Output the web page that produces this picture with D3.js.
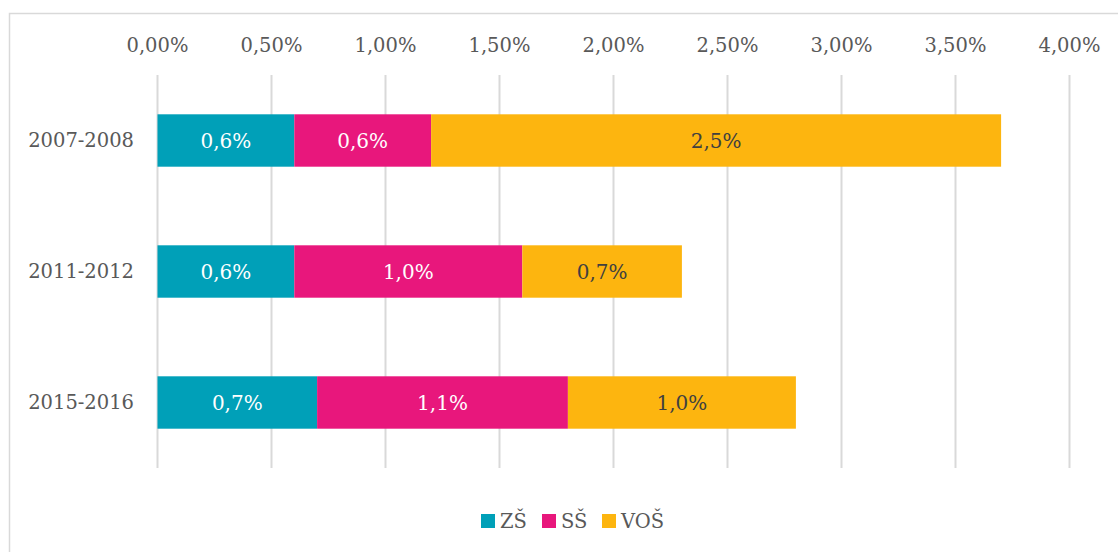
<!DOCTYPE html>
<html>
<head>
<meta charset="utf-8">
<script src="https://cdn.jsdelivr.net/npm/d3@7"></script>
<style>
  body { margin: 0; background: #fff; }
  svg text { font-family: "DejaVu Serif", "Liberation Serif", serif; }
</style>
</head>
<body>
<div id="chart"></div>
<script>
// Data (percent)
var years = ['2007-2008', '2011-2012', '2015-2016']
var keys = ['ZŠ', 'SŠ', 'VOŠ']
var zs  = [0.6, 0.6, 0.7]
var ss  = [0.6, 1.0, 1.1]
var vos = [2.5, 0.7, 1.0]
var ticks = [0, 0.5, 1, 1.5, 2, 2.5, 3, 3.5, 4]

var colors = ['#00a0b8', '#e8177c', '#fdb50f']
var labelColors = ['#ffffff', '#ffffff', '#404040']

// build rows for d3.stack
var rows = years.map(function(y, i) {
    return { year: y, 'ZŠ': zs[i], 'SŠ': ss[i], 'VOŠ': vos[i] }
})
var series = d3.stack().keys(keys)(rows)

var width = 1118, height = 552
var svg = d3.select('#chart').append('svg')
    .attr('width', width)
    .attr('height', height)

// chart frame
svg.append('rect')
    .attr('x', 9.5).attr('y', 13.5)
    .attr('width', 1120).attr('height', 560)
    .attr('fill', 'none')
    .attr('stroke', '#d9d9d9')
    .attr('stroke-width', 1.5)

var xScale = d3.scaleLinear().domain([0, 4]).range([157.5, 1069.5])
var yScale = d3.scaleBand().domain(years).range([75, 468])
    .paddingInner(0.6).paddingOuter(0.3)

// gridlines
svg.append('g').selectAll('line')
    .data(ticks)
    .join('line')
    .attr('x1', d => xScale(d)).attr('x2', d => xScale(d))
    .attr('y1', 75).attr('y2', 468)
    .attr('stroke', '#d9d9d9')
    .attr('stroke-width', 2)

// top axis labels
svg.append('g').selectAll('text')
    .data(ticks)
    .join('text')
    .attr('x', d => xScale(d))
    .attr('y', 52)
    .attr('text-anchor', 'middle')
    .attr('fill', '#595959')
    .style('font-size', '19.5px')
    .text(d => d3.format('.2f')(d).replace('.', ',') + '%')

// category labels
svg.append('g').selectAll('text')
    .data(years)
    .join('text')
    .attr('x', 134)
    .attr('y', d => yScale(d) + yScale.bandwidth() / 2)
    .attr('dy', '0.35em')
    .attr('text-anchor', 'end')
    .attr('fill', '#595959')
    .style('font-size', '19.5px')
    .text(d => d)

// stacked bars
var groups = svg.append('g').selectAll('g')
    .data(series)
    .join('g')
    .attr('fill', (d, i) => colors[i])

groups.selectAll('rect')
    .data(d => d)
    .join('rect')
    .attr('x', d => xScale(d[0]))
    .attr('y', d => yScale(d.data.year))
    .attr('width', d => xScale(d[1]) - xScale(d[0]))
    .attr('height', yScale.bandwidth())

// value labels
series.forEach(function(s, si) {
    svg.append('g').selectAll('text')
        .data(s)
        .join('text')
        .attr('x', d => (xScale(d[0]) + xScale(d[1])) / 2)
        .attr('y', d => yScale(d.data.year) + yScale.bandwidth() / 2)
        .attr('dy', '0.35em')
        .attr('text-anchor', 'middle')
        .attr('fill', labelColors[si])
        .style('font-size', '20px')
        .text(d => d3.format('.1f')(d[1] - d[0]).replace('.', ',') + '%')
})

// legend
var legendX = [481, 542, 602]
var legend = svg.append('g').selectAll('g')
    .data(keys)
    .join('g')
    .attr('transform', (d, i) => 'translate(' + legendX[i] + ',514)')
legend.append('rect')
    .attr('width', 14).attr('height', 14)
    .attr('fill', (d, i) => colors[i])
legend.append('text')
    .attr('x', 19).attr('y', 7)
    .attr('dy', '0.35em')
    .attr('fill', '#595959')
    .style('font-size', '19.5px')
    .text(d => d)
</script>
</body>
</html>
